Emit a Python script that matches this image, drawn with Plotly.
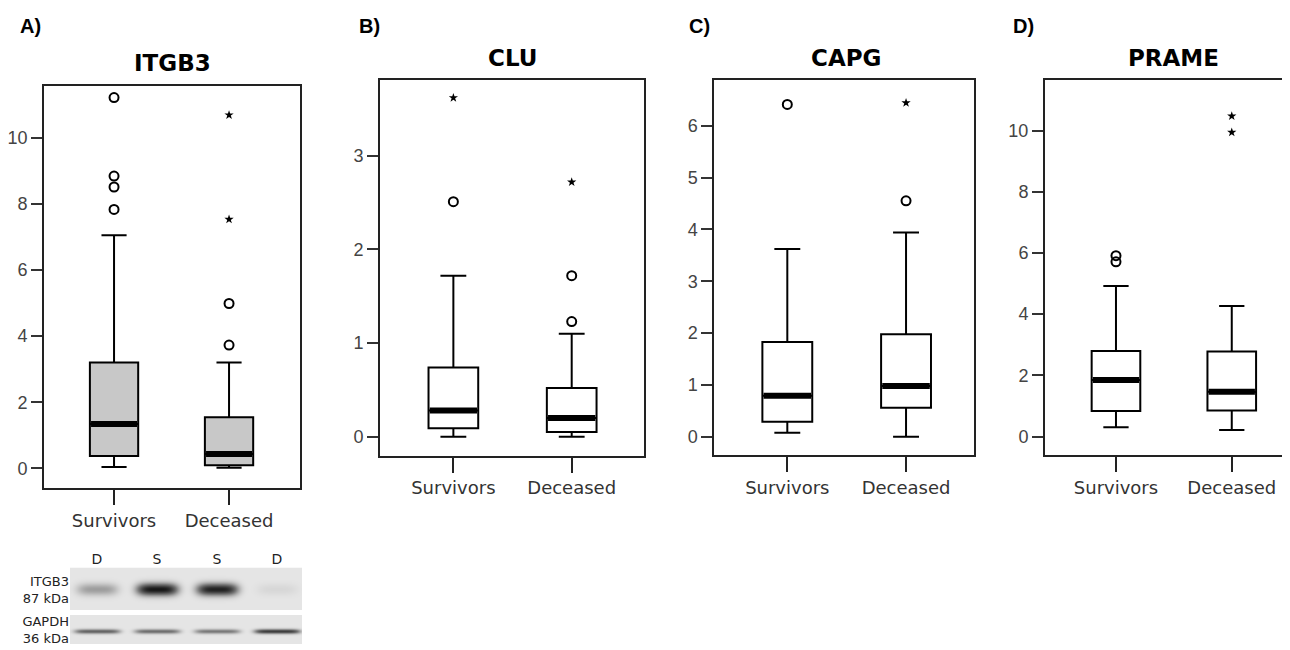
import numpy as np
import plotly.graph_objects as go

# Gruppen und Gene
groups = ["Survivors", "Deceased"]
genes = ["ITGB3", "CLU", "CAPG", "PRAME"]
letters = ["A)", "B)", "C)", "D)"]

# Boxplot-Kennwerte je Gen: [Survivors, Deceased]
whisker_low = [[0.04, 0.01], [0.0, 0.0], [0.08, 0.0], [0.31, 0.22]]
q1 = [[0.37, 0.09], [0.09, 0.05], [0.29, 0.56], [0.84, 0.85]]
median = [[1.34, 0.43], [0.28, 0.20], [0.79, 0.98], [1.85, 1.47]]
q3 = [[3.20, 1.54], [0.74, 0.52], [1.83, 1.98], [2.80, 2.78]]
whisker_high = [[7.06, 3.20], [1.72, 1.10], [3.62, 3.94], [4.92, 4.27]]

# Ausreißer (Kreise) und Extremwerte (Sterne)
circles = [[[11.23, 8.85, 8.52, 7.84], [4.99, 3.73]],
           [[2.51], [1.23, 1.72]],
           [[6.41], [4.55]],
           [[5.91, 5.71], []]]
stars = [[[], [10.70, 7.54]],
         [[3.62], [2.72]],
         [[], [6.44]],
         [[], [10.47, 9.94]]]

# Western Blot
lanes = ["D", "S", "S", "D"]
itgb3_band = [0.30, 0.95, 0.90, 0.06]
gapdh_band = [0.55, 0.50, 0.45, 0.75]

# Seite hat 8px Rand -> Figur etwas kleiner, Koordinaten verschieben
OFF = 8
W, H = 1290 - OFF, 650 - OFF


def fx(p):
    return (p - OFF) / W


def fy(p):
    return 1 - (p - OFF) / H


# Panel-Geometrie in Pixeln (links, rechts, oben, unten)
panels = [(44, 300, 86, 488), (380, 644, 80, 455.5),
          (714.3, 974.3, 80, 455), (1045, 1290, 80, 455)]
title_x = [172, 512, 846, 1173]
title_y = [63, 58, 58, 58]
x_ranges = [[-0.609, 1.617], [-0.62, 1.611], [-0.615, 1.575], [-0.613, 1.503]]
y_ranges = [[-0.6, 11.58], [-0.2, 3.81], [-0.35, 6.88], [-0.6, 11.65]]
y_dticks = [2, 1, 1, 2]
box_fill = ["#c8c8c8", "white", "white", "white"]
bw = 0.42

fig = go.Figure()
layout = {}
annotations = []

for k, gene in enumerate(genes):
    xa = "x" if k == 0 else f"x{k + 1}"
    ya = "y" if k == 0 else f"y{k + 1}"
    for i in range(2):
        fig.add_trace(go.Box(
            x=[i], q1=[q1[k][i]], median=[median[k][i]], q3=[q3[k][i]],
            lowerfence=[whisker_low[k][i]], upperfence=[whisker_high[k][i]],
            width=bw, whiskerwidth=0.52, fillcolor=box_fill[k],
            line=dict(color="black", width=2), boxpoints=False,
            xaxis=xa, yaxis=ya, showlegend=False, hoverinfo="skip"))
        fig.add_trace(go.Scatter(
            x=[i - bw / 2 + 0.01, i + bw / 2 - 0.01], y=[median[k][i]] * 2,
            mode="lines", line=dict(color="black", width=6),
            xaxis=xa, yaxis=ya, showlegend=False, hoverinfo="skip"))
        if circles[k][i]:
            fig.add_trace(go.Scatter(
                x=[i] * len(circles[k][i]), y=circles[k][i], mode="markers",
                marker=dict(symbol="circle-open", size=9, color="black",
                            line=dict(width=2, color="black")),
                xaxis=xa, yaxis=ya, showlegend=False))
        if stars[k][i]:
            fig.add_trace(go.Scatter(
                x=[i] * len(stars[k][i]), y=stars[k][i], mode="markers",
                marker=dict(symbol="star", size=7, color="black"),
                xaxis=xa, yaxis=ya, showlegend=False))

    l, r, t, b = panels[k]
    xkey = "xaxis" if k == 0 else f"xaxis{k + 1}"
    ykey = "yaxis" if k == 0 else f"yaxis{k + 1}"
    layout[xkey] = dict(
        domain=[fx(l), min(fx(r), 1)], anchor=ya, range=x_ranges[k],
        tickvals=[0, 1], ticktext=groups, showgrid=False, zeroline=False,
        showline=True, mirror=True, linecolor="#222", linewidth=2,
        ticks="outside", ticklen=15, tickwidth=2, tickcolor="#222",
        automargin=False,
        tickfont=dict(family="DejaVu Sans", size=18, color="#333"))
    layout[ykey] = dict(
        domain=[fy(b), fy(t)], anchor=xa, range=y_ranges[k], dtick=y_dticks[k],
        tick0=0, showgrid=False, zeroline=False, showline=True,
        mirror=(k < 3), linecolor="#222", linewidth=2,
        ticks="outside", ticklen=11, tickwidth=1.5, tickcolor="#333",
        automargin=False,
        tickfont=dict(family="Liberation Sans", size=18, color="#444"))

    annotations.append(dict(
        text=f"<b>{gene}</b>", x=fx(title_x[k]), y=fy(title_y[k]),
        xref="paper", yref="paper", xanchor="center", yanchor="middle",
        showarrow=False, font=dict(family="DejaVu Sans", size=23, color="black")))

letter_x = [18, 357, 687, 1011]
for k, s in enumerate(letters):
    annotations.append(dict(
        text=f"<b>{s}</b>", x=fx(letter_x[k]), y=fy(26), xref="paper", yref="paper",
        xanchor="left", yanchor="middle", showarrow=False,
        font=dict(family="Liberation Sans", size=20, color="black")))

# Blot als Heatmap
xs = np.linspace(-0.45, 3.42, 233)
rows = np.arange(568, 645)
z = np.full((len(rows), len(xs)), np.nan)
for j, yy in enumerate(rows):
    if 568 <= yy < 610:
        v = np.exp(-((yy - 589) / 6.0) ** 2)
        z[j] = 0.04 + sum(a * v * np.exp(-((xs - n) / 0.34) ** 4)
                          for n, a in enumerate(itgb3_band))
    elif 615 <= yy < 644:
        v = np.exp(-((yy - 631) / 2.3) ** 2)
        z[j] = 0.04 + sum(a * v * np.exp(-((xs - n) / 0.38) ** 6)
                          for n, a in enumerate(gapdh_band))
fig.add_trace(go.Heatmap(
    x=xs, y=rows, z=z, zmin=0, zmax=1, showscale=False,
    colorscale=[[0, "#efefef"], [0.5, "#777777"], [1, "#151515"]],
    xaxis="x5", yaxis="y5", hoverinfo="skip"))
layout["xaxis5"] = dict(
    domain=[fx(70), fx(302)], anchor="y5", range=[-0.45, 3.42], side="top",
    tickvals=[0, 1, 2, 3], ticktext=lanes, showgrid=False, zeroline=False,
    showline=False, ticks="",
    automargin=False,
    tickfont=dict(family="DejaVu Sans", size=14, color="#222"))
layout["yaxis5"] = dict(
    domain=[fy(645), fy(567.5)], anchor="x5", range=[645, 567.5],
    tickvals=[590, 630], ticktext=["ITGB3<br>87 kDa", "GAPDH<br>36 kDa"],
    showgrid=False, zeroline=False, showline=False, ticks="",
    automargin=False,
    tickfont=dict(family="DejaVu Sans", size=13, color="#222"))

fig.update_layout(
    width=W, height=H, margin=dict(l=0, r=0, t=0, b=0, autoexpand=False),
    paper_bgcolor="white", plot_bgcolor="white", showlegend=False,
    annotations=annotations, **layout)

fig.write_html("out.html")
